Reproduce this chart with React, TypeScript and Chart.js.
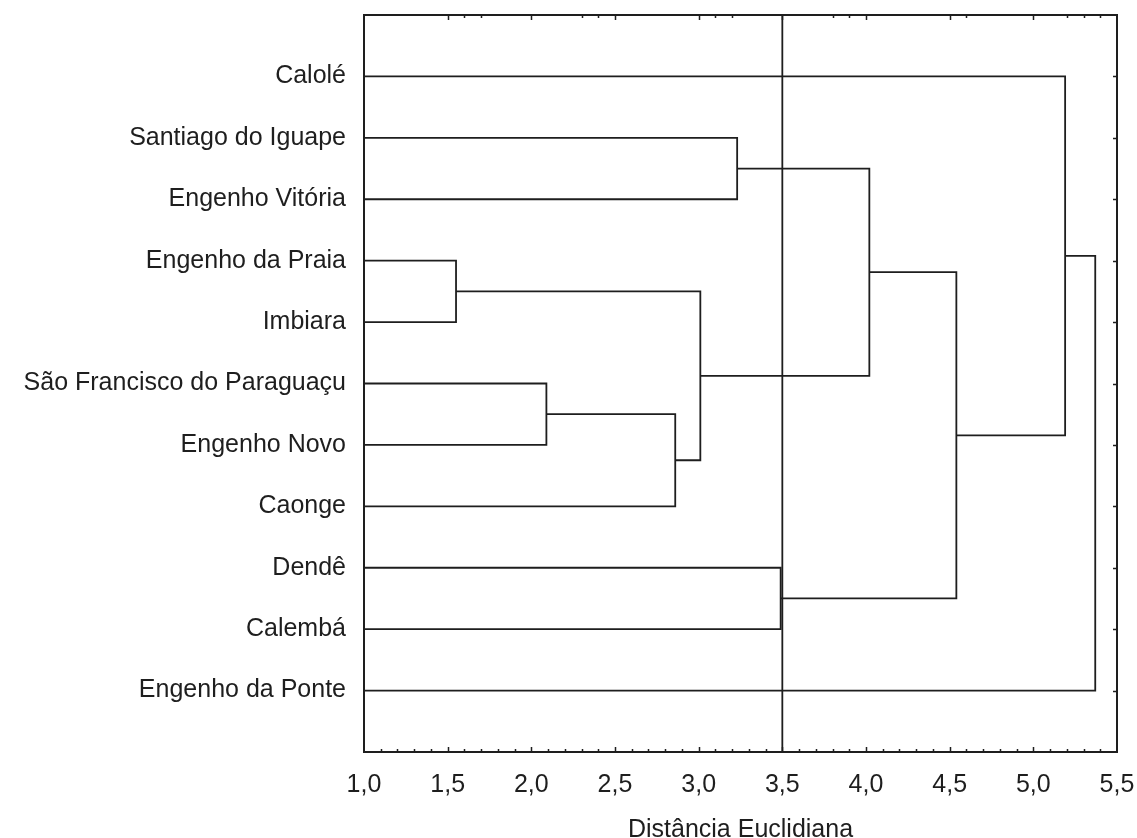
import { useEffect, useRef } from "react";
import { Chart, registerables } from "chart.js";

Chart.register(...registerables);

// Leaves, top to bottom
const leafLabels = [
  "Calolé",
  "Santiago do Iguape",
  "Engenho Vitória",
  "Engenho da Praia",
  "Imbiara",
  "São Francisco do Paraguaçu",
  "Engenho Novo",
  "Caonge",
  "Dendê",
  "Calembá",
  "Engenho da Ponte",
];

// Merge steps: node ids 0..10 are leaves, merge k creates node 11+k
const mergeLeft = [3, 5, 12, 1, 11, 14, 8, 16, 0, 19];
const mergeRight = [4, 6, 7, 2, 13, 15, 9, 17, 18, 10];
const mergeHeight = [1.55, 2.09, 2.86, 3.23, 3.01, 4.02, 3.49, 4.54, 5.19, 5.37];

const cutHeight = 3.5;
const xMin = 1.0;
const xMax = 5.5;
const xStep = 0.5;
const topTickValues = [1.5, 1.6, 1.7, 2.0, 2.3, 2.4, 2.5, 3.0, 3.1, 3.2, 3.5, 3.8, 3.9, 4.0, 4.5, 4.6, 5.0, 5.2, 5.3, 5.4];

const INK = "#1e1e1e";
const FONT = "'Liberation Sans', Arial, sans-serif";

function buildDatasets() {
  const nodeY: number[] = leafLabels.map((_, i) => i + 1);
  const nodeH: number[] = leafLabels.map(() => xMin);
  const sets: any[] = [];
  for (let k = 0; k < mergeLeft.length; k++) {
    const a = mergeLeft[k];
    const b = mergeRight[k];
    const h = mergeHeight[k];
    sets.push({
      label: "m" + k,
      data: [
        { x: nodeH[a], y: nodeY[a] },
        { x: h, y: nodeY[a] },
        { x: h, y: nodeY[b] },
        { x: nodeH[b], y: nodeY[b] },
      ],
      showLine: true,
      borderColor: INK,
      borderWidth: 1.8,
      pointRadius: 0,
      fill: false,
    });
    nodeY.push((nodeY[a] + nodeY[b]) / 2);
    nodeH.push(h);
  }
  sets.push({
    label: "cut",
    data: [
      { x: cutHeight, y: 0 },
      { x: cutHeight, y: leafLabels.length + 1 },
    ],
    showLine: true,
    borderColor: INK,
    borderWidth: 1.8,
    pointRadius: 0,
    fill: false,
  });
  return sets;
}

const framePlugin = {
  id: "frame",
  afterDraw(chart: any) {
    const { ctx, chartArea } = chart;
    const xs = chart.scales.x;
    const ys = chart.scales.y;
    const { left, right, top, bottom } = chartArea;
    ctx.save();
    ctx.strokeStyle = INK;
    ctx.lineWidth = 2;
    ctx.strokeRect(left, top, right - left, bottom - top);
    ctx.lineWidth = 1.5;
    ctx.beginPath();
    // bottom ticks every 0.1, major every 0.5
    const n = Math.round((xMax - xMin) / 0.1);
    for (let i = 1; i < n; i++) {
      const v = xMin + i * 0.1;
      const px = Math.round(xs.getPixelForValue(v)) + 0.5;
      const major = i % 5 === 0;
      ctx.moveTo(px, bottom);
      ctx.lineTo(px, bottom - (major ? 5 : 3));
    }
    // top ticks
    for (const v of topTickValues) {
      const px = Math.round(xs.getPixelForValue(v)) + 0.5;
      const major = Math.abs(v * 2 - Math.round(v * 2)) < 1e-6;
      ctx.moveTo(px, top);
      ctx.lineTo(px, top + (major ? 5 : 3));
    }
    // right ticks at each leaf
    for (let i = 1; i <= leafLabels.length; i++) {
      const py = Math.round(ys.getPixelForValue(i)) + 0.5;
      ctx.moveTo(right, py);
      ctx.lineTo(right - 4, py);
    }
    ctx.stroke();
    ctx.restore();
  },
};

export default function App() {
  const ref = useRef<HTMLCanvasElement | null>(null);

  useEffect(() => {
    document.body.style.margin = "0";
    const canvas = ref.current;
    if (!canvas) return;
    const chart = new Chart(canvas, {
      type: "scatter",
      data: { datasets: buildDatasets() },
      options: {
        animation: false,
        responsive: false,
        devicePixelRatio: 1,
        layout: { padding: { top: 15, right: 20, left: 0, bottom: 0 } },
        plugins: {
          legend: { display: false },
          tooltip: { enabled: false },
        },
        scales: {
          x: {
            type: "linear",
            min: xMin,
            max: xMax,
            grid: { display: false, drawTicks: false },
            border: { display: false },
            ticks: {
              stepSize: xStep,
              padding: 18,
              color: INK,
              font: { family: FONT, size: 25 },
              callback: (v: any) => Number(v).toFixed(1).replace(".", ","),
            },
            title: {
              display: true,
              text: "Distância Euclidiana",
              color: INK,
              font: { family: FONT, size: 25, lineHeight: 1 },
              padding: { top: 0, bottom: -5 },
            },
            afterFit: (s: any) => {
              s.height = 86;
              s.paddingLeft = 0;
              s.paddingRight = 0;
              s.paddingTop = 0;
              s.paddingBottom = 0;
            },
          },
          y: {
            type: "linear",
            min: 0,
            max: leafLabels.length + 1,
            reverse: true,
            grid: { display: false, drawTicks: false },
            border: { display: false },
            ticks: {
              stepSize: 1,
              autoSkip: false,
              padding: 18,
              color: INK,
              font: { family: FONT, size: 25 },
              callback: (v: any) => leafLabels[Number(v) - 1] ?? "",
            },
            afterFit: (s: any) => {
              s.width = 364;
              s.paddingLeft = 0;
              s.paddingRight = 0;
              s.paddingTop = 0;
              s.paddingBottom = 0;
            },
          },
        },
      },
      plugins: [framePlugin],
    });
    return () => chart.destroy();
  }, []);

  return (
    <div style={{ width: 1137, height: 838, background: "#fff" }}>
      <canvas ref={ref} width={1137} height={838} style={{ display: "block" }} />
    </div>
  );
}
